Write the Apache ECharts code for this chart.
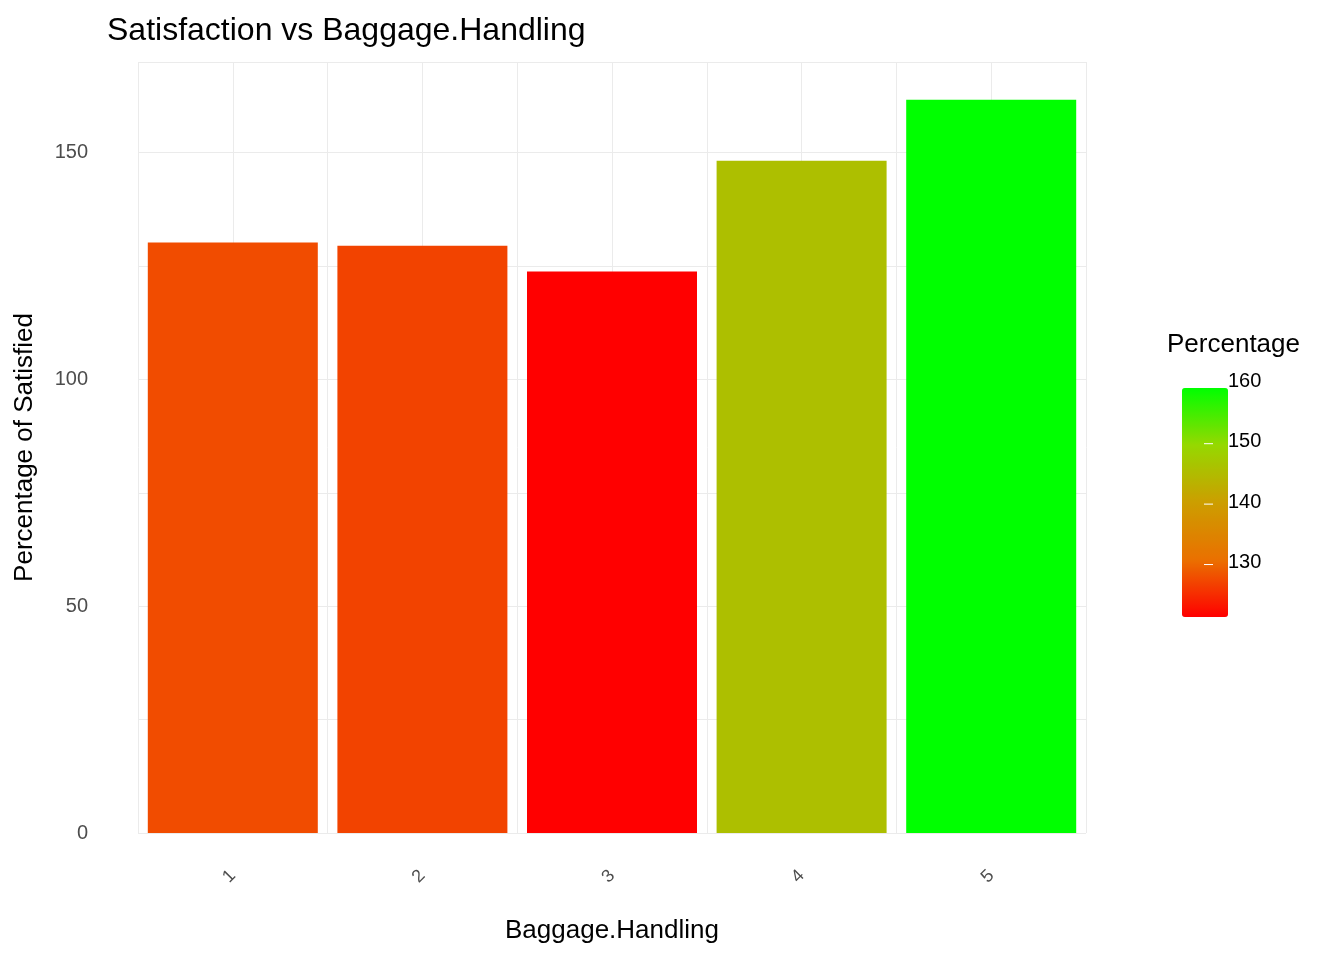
<!DOCTYPE html>
<html>
<head>
<meta charset="utf-8">
<script src="https://cdn.jsdelivr.net/npm/echarts@6/dist/echarts.min.js"></script>
<style>html,body{margin:0;background:#fff}#chart{width:1344px;height:960px}</style>
</head>
<body>
<div id="chart"></div>
<script>
var categories = [1, 2, 3, 4, 5]
var percentages = [130.2, 129.5, 123.8, 148.2, 161.7]
var legendTicks = [130, 140, 150, 160]

var chart = echarts.init(document.getElementById("chart"))
var vmin = Math.min.apply(null, percentages)
var vmax = Math.max.apply(null, percentages)

// legend bar geometry
var barTop = 373, barH = 229, barLeft = 1167, barW = 46
function legendY(v) { return barTop + (vmax - v) / (vmax - vmin) * barH }

var legendGraphics = [{
    type: 'text', left: 1167, top: 332,
    style: { text: 'Percentage', fontSize: 26, fill: '#000', fontFamily: 'Liberation Sans' }
}]
legendTicks.forEach(function (t) {
    var y = legendY(t)
    legendGraphics.push({
        type: 'text', left: 1228, top: y - 12,
        style: { text: String(t), fontSize: 20, fill: '#000', fontFamily: 'Liberation Sans' }
    })
    legendGraphics.push({ type: 'line', shape: { x1: barLeft, y1: y, x2: barLeft + 9, y2: y }, style: { stroke: '#fff', lineWidth: 1 }, z: 100 })
    legendGraphics.push({ type: 'line', shape: { x1: barLeft + barW - 9, y1: y, x2: barLeft + barW, y2: y }, style: { stroke: '#fff', lineWidth: 1 }, z: 100 })
})

var option = {
    textStyle: { fontFamily: 'Liberation Sans' },
    title: {
        text: 'Satisfaction vs Baggage.Handling', left: 102, top: 10,
        textStyle: { fontSize: 32, fontWeight: 'normal', color: '#000' }
    },
    grid: { left: 138, right: 1344 - 1086, top: 62, bottom: 127 },
    xAxis: {
        type: 'value', min: 0.5, max: 5.5, interval: 0.5,
        name: 'Baggage.Handling', nameLocation: 'middle', nameGap: 85,
        nameTextStyle: { fontSize: 26, color: '#000' },
        axisLine: { show: false }, axisTick: { show: false },
        axisLabel: {
            rotate: 45, fontSize: 18, color: '#4d4d4d', margin: 40,
            formatter: function (v) { return Number.isInteger(v) ? String(v) : '' }
        },
        splitLine: { lineStyle: { color: '#ebebeb', width: 1 } }
    },
    yAxis: {
        type: 'value', min: 0, max: 170, interval: 25,
        name: 'Percentage of Satisfied', nameLocation: 'middle', nameGap: 100,
        nameTextStyle: { fontSize: 26, color: '#000' },
        axisLine: { show: false }, axisTick: { show: false },
        axisLabel: {
            fontSize: 20, color: '#4d4d4d', margin: 50,
            formatter: function (v) { return v % 50 === 0 ? String(v) : '' }
        },
        splitLine: { lineStyle: { color: '#ebebeb', width: 1 } }
    },
    visualMap: {
        type: 'continuous', min: vmin, max: vmax, dimension: 1,
        left: barLeft, top: barTop, itemWidth: barW, itemHeight: barH,
        text: ['', ''], calculable: false, hoverLink: false,
        inRange: { color: ['#ff0000', '#ea7000', '#cc9e00', '#96d800', '#00ff00'] }
    },
    graphic: legendGraphics,
    series: [{
        type: 'bar',
        barWidth: 170,
        data: categories.map(function (c, i) { return [c, percentages[i]] })
    }]
}
chart.setOption(option)
</script>
</body>
</html>
